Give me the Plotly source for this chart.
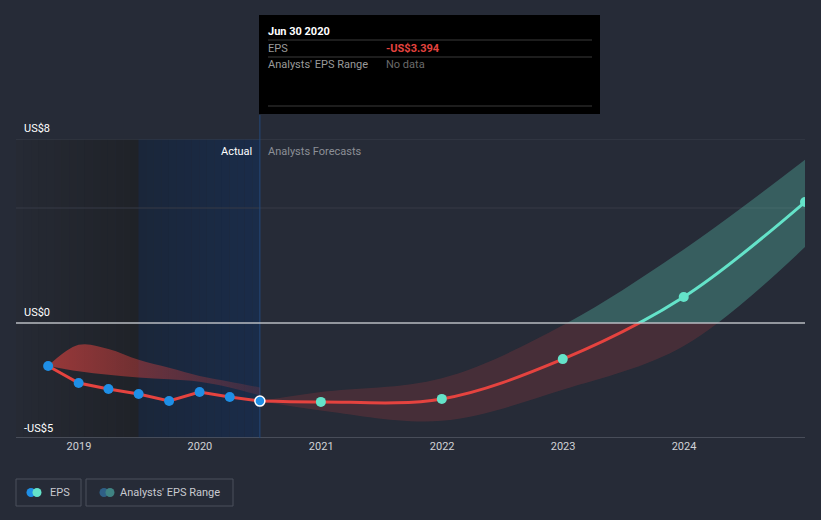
import plotly.graph_objects as go
import pandas as pd

# ---------------- data ----------------
actual_dates = ["2018-09-30", "2018-12-31", "2019-03-31", "2019-06-30",
                "2019-09-30", "2019-12-31", "2020-03-31", "2020-06-30"]
actual_eps = [-1.87, -2.61, -2.87, -3.09, -3.39, -3.00, -3.22, -3.394]
past_range_high = [-1.87, -0.95, -1.13, -1.60, -1.95, -2.30, -2.55, -2.80]
past_range_low = [-1.87, -2.10, -2.25, -2.37, -2.45, -2.55, -2.80, -3.15]

forecast_dates = ["2020-06-30", "2020-12-31", "2021-12-31", "2022-12-31",
                  "2023-12-31", "2024-12-31"]
forecast_eps = [-3.394, -3.43, -3.30, -1.57, 1.13, 5.26]
forecast_high = [-3.394, -3.00, -2.40, -0.10, 3.20, 7.10]
forecast_low = [-3.394, -3.80, -4.25, -2.90, -1.00, 3.30]

y_ticks = [8, 0, -5]
y_tick_labels = ["US$8", "US$0", "-US$5"]
x_range = ["2018-06-25", "2024-12-31"]
y_min, y_max = -5, 8
today = "2020-06-30"
history_start = "2019-06-30"

# ---------------- style ----------------
BG = "#262b37"
RED = "#e5433f"
TEAL = "#64e3c9"
BLUE = "#1f8fe6"
FONT = "Roboto"
W, H = 821, 520
PL, PR, PT, PB = 16, 805, 139, 438


def px(x):
    return (x - PL) / (PR - PL)


def py(y):
    return (PB - y) / (PB - PT)


split = (0 - y_min) / (y_max - y_min)

fig = go.Figure()

# clipped band + lines: lower (negative, red) and upper (positive, teal)
for yax, fillc, linec in [("y", "rgba(229,67,63,0.17)", RED),
                          ("y2", "rgba(100,227,201,0.28)", TEAL)]:
    fig.add_trace(go.Scatter(x=forecast_dates, y=forecast_low, xaxis="x", yaxis=yax,
                             mode="lines", line=dict(width=0, shape="spline"),
                             hoverinfo="skip", showlegend=False))
    fig.add_trace(go.Scatter(x=forecast_dates, y=forecast_high, xaxis="x", yaxis=yax,
                             mode="lines", line=dict(width=0, shape="spline"),
                             fill="tonexty", fillcolor=fillc,
                             hoverinfo="skip", showlegend=False))
    if yax == "y":
        fig.add_trace(go.Scatter(x=actual_dates, y=past_range_low, xaxis="x", yaxis=yax,
                                 mode="lines", line=dict(width=0, shape="spline"),
                                 hoverinfo="skip", showlegend=False))
        fig.add_trace(go.Scatter(x=actual_dates, y=past_range_high, xaxis="x", yaxis=yax,
                                 mode="lines", line=dict(width=0, shape="spline"),
                                 fill="tonexty",
                                 fillgradient=dict(type="horizontal",
                                                   colorscale=[[0, "rgba(229,67,63,0.6)"],
                                                               [1, "rgba(229,67,63,0.15)"]]),
                                 hoverinfo="skip", showlegend=False))
        fig.add_trace(go.Scatter(x=actual_dates, y=actual_eps, xaxis="x", yaxis=yax,
                                 mode="lines", line=dict(width=3, color=RED),
                                 hoverinfo="skip", showlegend=False))
    fig.add_trace(go.Scatter(x=forecast_dates, y=forecast_eps, xaxis="x", yaxis=yax,
                             mode="lines", line=dict(width=3, color=linec, shape="spline"),
                             hoverinfo="skip", showlegend=False))

# markers on full-range axis
fig.add_trace(go.Scatter(x=actual_dates[:-1], y=actual_eps[:-1], xaxis="x", yaxis="y3",
                         mode="markers", marker=dict(size=10, color=BLUE),
                         hoverinfo="skip", showlegend=False))
fig.add_trace(go.Scatter(x=actual_dates[-1:], y=actual_eps[-1:], xaxis="x", yaxis="y3",
                         mode="markers",
                         marker=dict(size=10, color=BLUE, line=dict(color="white", width=1.5)),
                         hoverinfo="skip", showlegend=False))
fig.add_trace(go.Scatter(x=forecast_dates[1:], y=forecast_eps[1:], xaxis="x", yaxis="y3",
                         mode="markers", marker=dict(size=10, color=TEAL),
                         hoverinfo="skip", showlegend=False))

shapes = []


def hexmix(c1, c2, t):
    a = [int(c1[i:i + 2], 16) for i in (1, 3, 5)]
    b = [int(c2[i:i + 2], 16) for i in (1, 3, 5)]
    return "#" + "".join(f"{round(a[k] + (b[k] - a[k]) * t):02x}" for k in range(3))


def strips(start, end, c1, c2, n=16):
    edges = pd.date_range(pd.Timestamp(start), pd.Timestamp(end), periods=n + 1)
    for i in range(n):
        shapes.append(dict(type="rect", xref="x", yref="paper",
                           x0=edges[i], x1=edges[i + 1], y0=0, y1=1,
                           fillcolor=hexmix(c1, c2, (i + 0.5) / n),
                           line=dict(width=0), layer="below"))


strips(x_range[0], history_start, "#262a34", "#1f2228")
strips(history_start, today, "#1a2639", "#1a2c4a")

# gridlines
for yv, col, wd in [(8, "#3b404c", 1), (5, "#363b47", 1), (-5, "#555a66", 1.5)]:
    shapes.append(dict(type="line", xref="paper", yref="y3", x0=0, x1=1, y0=yv, y1=yv,
                       line=dict(color=col, width=wd), layer="below"))
shapes.append(dict(type="line", xref="paper", yref="y3", x0=0, x1=1, y0=0, y1=0,
                   line=dict(color="#b9bcc2", width=1.5), layer="above"))
# today line
shapes.append(dict(type="line", xref="x", yref="paper", x0=today, x1=today,
                   y0=0, y1=py(115), line=dict(color="#24497a", width=1), layer="below"))

# tooltip box
shapes.append(dict(type="rect", xref="paper", yref="paper", x0=px(259), x1=px(600),
                   y0=py(114), y1=py(15), fillcolor="#000000", line=dict(width=0),
                   layer="above"))
for yy in (40, 57, 106):
    shapes.append(dict(type="line", xref="paper", yref="paper", x0=px(268), x1=px(592),
                       y0=py(yy), y1=py(yy), line=dict(color="#3a3a3a", width=1),
                       layer="above"))

# legend boxes
for x0, x1 in [(16, 81), (86, 233)]:
    shapes.append(dict(type="rect", xref="paper", yref="paper", x0=px(x0), x1=px(x1),
                       y0=py(506), y1=py(479), fillcolor="rgba(0,0,0,0)",
                       line=dict(color="#4b505c", width=1), layer="above"))
for cx, col in [(31, BLUE), (37, TEAL), (104, "#2f5f86"), (110, "#3f8383")]:
    r = 4.5
    shapes.append(dict(type="circle", xref="paper", yref="paper",
                       x0=px(cx - r), x1=px(cx + r), y0=py(492.5 + r), y1=py(492.5 - r),
                       fillcolor=col, line=dict(width=0), layer="above"))

annotations = []


def text(x, y, s, color, size=11, anchor="left", bold=False, yanchor="middle"):
    shift = -2 if anchor == "left" else 2
    annotations.append(dict(xref="paper", yref="paper", x=px(x + shift), y=py(y),
                            text=f"<b>{s}</b>" if bold else s, showarrow=False,
                            xanchor=anchor, yanchor=yanchor,
                            font=dict(family=FONT, size=size, color=color)))


text(268, 31, "Jun 30 2020", "#ffffff", 11, bold=True)
text(268, 48, "EPS", "#9a9a9a", 11)
text(386, 48, "-US$3.394", "#e5433f", 11, bold=True)
text(268, 65, "Analysts' EPS Range", "#9a9a9a", 11)
text(386, 65, "No data", "#6a6a6a", 11)

text(252, 151, "Actual", "#ffffff", 11, anchor="right")
text(268, 151, "Analysts Forecasts", "#8c8f96", 11)

label_y = {8: 128, 0: 312, -5: 428}
for v, lab in zip(y_ticks, y_tick_labels):
    text(24, label_y[v], lab, "#ffffff", 11)

text(50, 492.5, "EPS", "#c8cad0", 11)
text(120, 492.5, "Analysts' EPS Range", "#c8cad0", 11)

fig.update_layout(
    width=W, height=H,
    margin=dict(l=PL, r=W - PR, t=PT, b=H - PB, autoexpand=False),
    paper_bgcolor=BG, plot_bgcolor="rgba(0,0,0,0)",
    showlegend=False,
    shapes=shapes, annotations=annotations,
    font=dict(family=FONT),
    xaxis=dict(type="date", range=x_range, anchor="y", tickformat="%Y",
               dtick="M12", tick0="2019-01-01", showgrid=False, zeroline=False,
               automargin=False,
               showline=False, ticks="", tickfont=dict(family=FONT, size=11, color="#d0d2d6")),
    yaxis=dict(domain=[0, split], range=[y_min, 0], showgrid=False, zeroline=False,
               showticklabels=False, anchor="x"),
    yaxis2=dict(domain=[split, 1], range=[0, y_max], showgrid=False, zeroline=False,
                showticklabels=False, anchor="x"),
    yaxis3=dict(domain=[0, 1], range=[y_min, y_max], showgrid=False, zeroline=False,
                showticklabels=False, anchor="x"),
)

fig.write_html("out.html", config={"displayModeBar": False},
               post_script="document.body.style.margin='0';")
